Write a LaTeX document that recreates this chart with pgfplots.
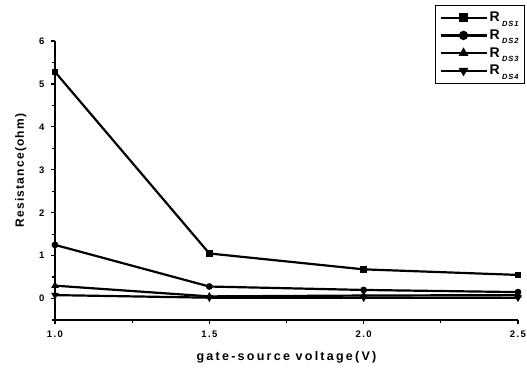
\documentclass[border=0pt]{standalone}
\usepackage{fontspec}
\setmainfont{Liberation Sans}
\usepackage{pgfplots}
\pgfplotsset{compat=1.18}
\newfontfamily\spaced[LetterSpace=18]{Liberation Sans}
\newfontfamily\yspaced[LetterSpace=10]{Liberation Sans}
\newfontfamily\tspaced[LetterSpace=15]{Liberation Sans}
\newfontfamily\subspaced[LetterSpace=12]{Liberation Sans}
\newcommand{\sub}[1]{\,\raisebox{-0.6ex}{\subspaced\fontsize{7.5}{8}\selectfont\bfseries\itshape #1}}
\begin{document}
\begin{tikzpicture}
\useasboundingbox (-55pt,-47pt) rectangle (472pt,320pt);
\begin{axis}[
  scale only axis, width=463pt, height=279pt,
  at={(0,0)}, anchor=south west,
  xmin=1, xmax=2.5, ymin=-0.5, ymax=6,
  axis x line*=bottom, axis y line*=left,
  axis line style={line width=1.4pt},
  xtick={1,1.5,2,2.5}, xticklabels={1.0,1.5,2.0,2.5},
  minor xtick={1.25,1.75,2.25},
  ytick={0,1,2,3,4,5,6},
  minor ytick={-0.5,0.5,1.5,2.5,3.5,4.5,5.5},
  tick style={black, line width=1.2pt},
  major tick length=4pt, minor tick length=3pt,
  tick align=outside,
  /pgf/number format/assume math mode=true,
  ticklabel style={font=\tspaced\bfseries\fontsize{9.5}{11}\selectfont},
  xticklabel style={yshift=-3pt},
  yticklabel style={xshift=-3pt},
  xlabel={\spaced\bfseries gate-source voltage(V)},
  ylabel={\yspaced\bfseries Resistance(ohm)},
  xlabel style={font=\fontsize{12.5}{14}\selectfont, yshift=-7pt},
  ylabel style={font=\fontsize{12}{14}\selectfont, yshift=6pt, xshift=10pt},
  legend style={at={(1.015,1.13)}, anchor=north east, draw=black, line width=1pt,
    font=\bfseries\fontsize{14}{15}\selectfont, row sep=2.5pt, inner xsep=4pt, inner ysep=5pt},
  legend cell align=left,
  legend image code/.code={\draw[mark repeat=2,mark phase=2,#1] plot coordinates {(0pt,0pt) (23pt,0pt) (46pt,0pt)};},
  legend image post style={mark size=3.5pt},
  every axis plot/.append style={line width=2.2pt, black, mark size=2.2pt},
]
\addplot[mark=square*] coordinates {(1.0,5.28) (1.5,1.05) (2.0,0.68) (2.5,0.55)};
\addlegendentry{R\sub{DS1}}
\addplot[mark=*] coordinates {(1.0,1.25) (1.5,0.28) (2.0,0.20) (2.5,0.15)};
\addlegendentry{R\sub{DS2}}
\addplot[mark=triangle*] coordinates {(1.0,0.30) (1.5,0.05) (2.0,0.07) (2.5,0.08)};
\addlegendentry{R\sub{DS3}}
\addplot[mark=triangle*, mark options={rotate=180}] coordinates {(1.0,0.08) (1.5,0.02) (2.0,0.02) (2.5,0.02)};
\addlegendentry{R\sub{DS4}}
\end{axis}
\end{tikzpicture}
\end{document}
